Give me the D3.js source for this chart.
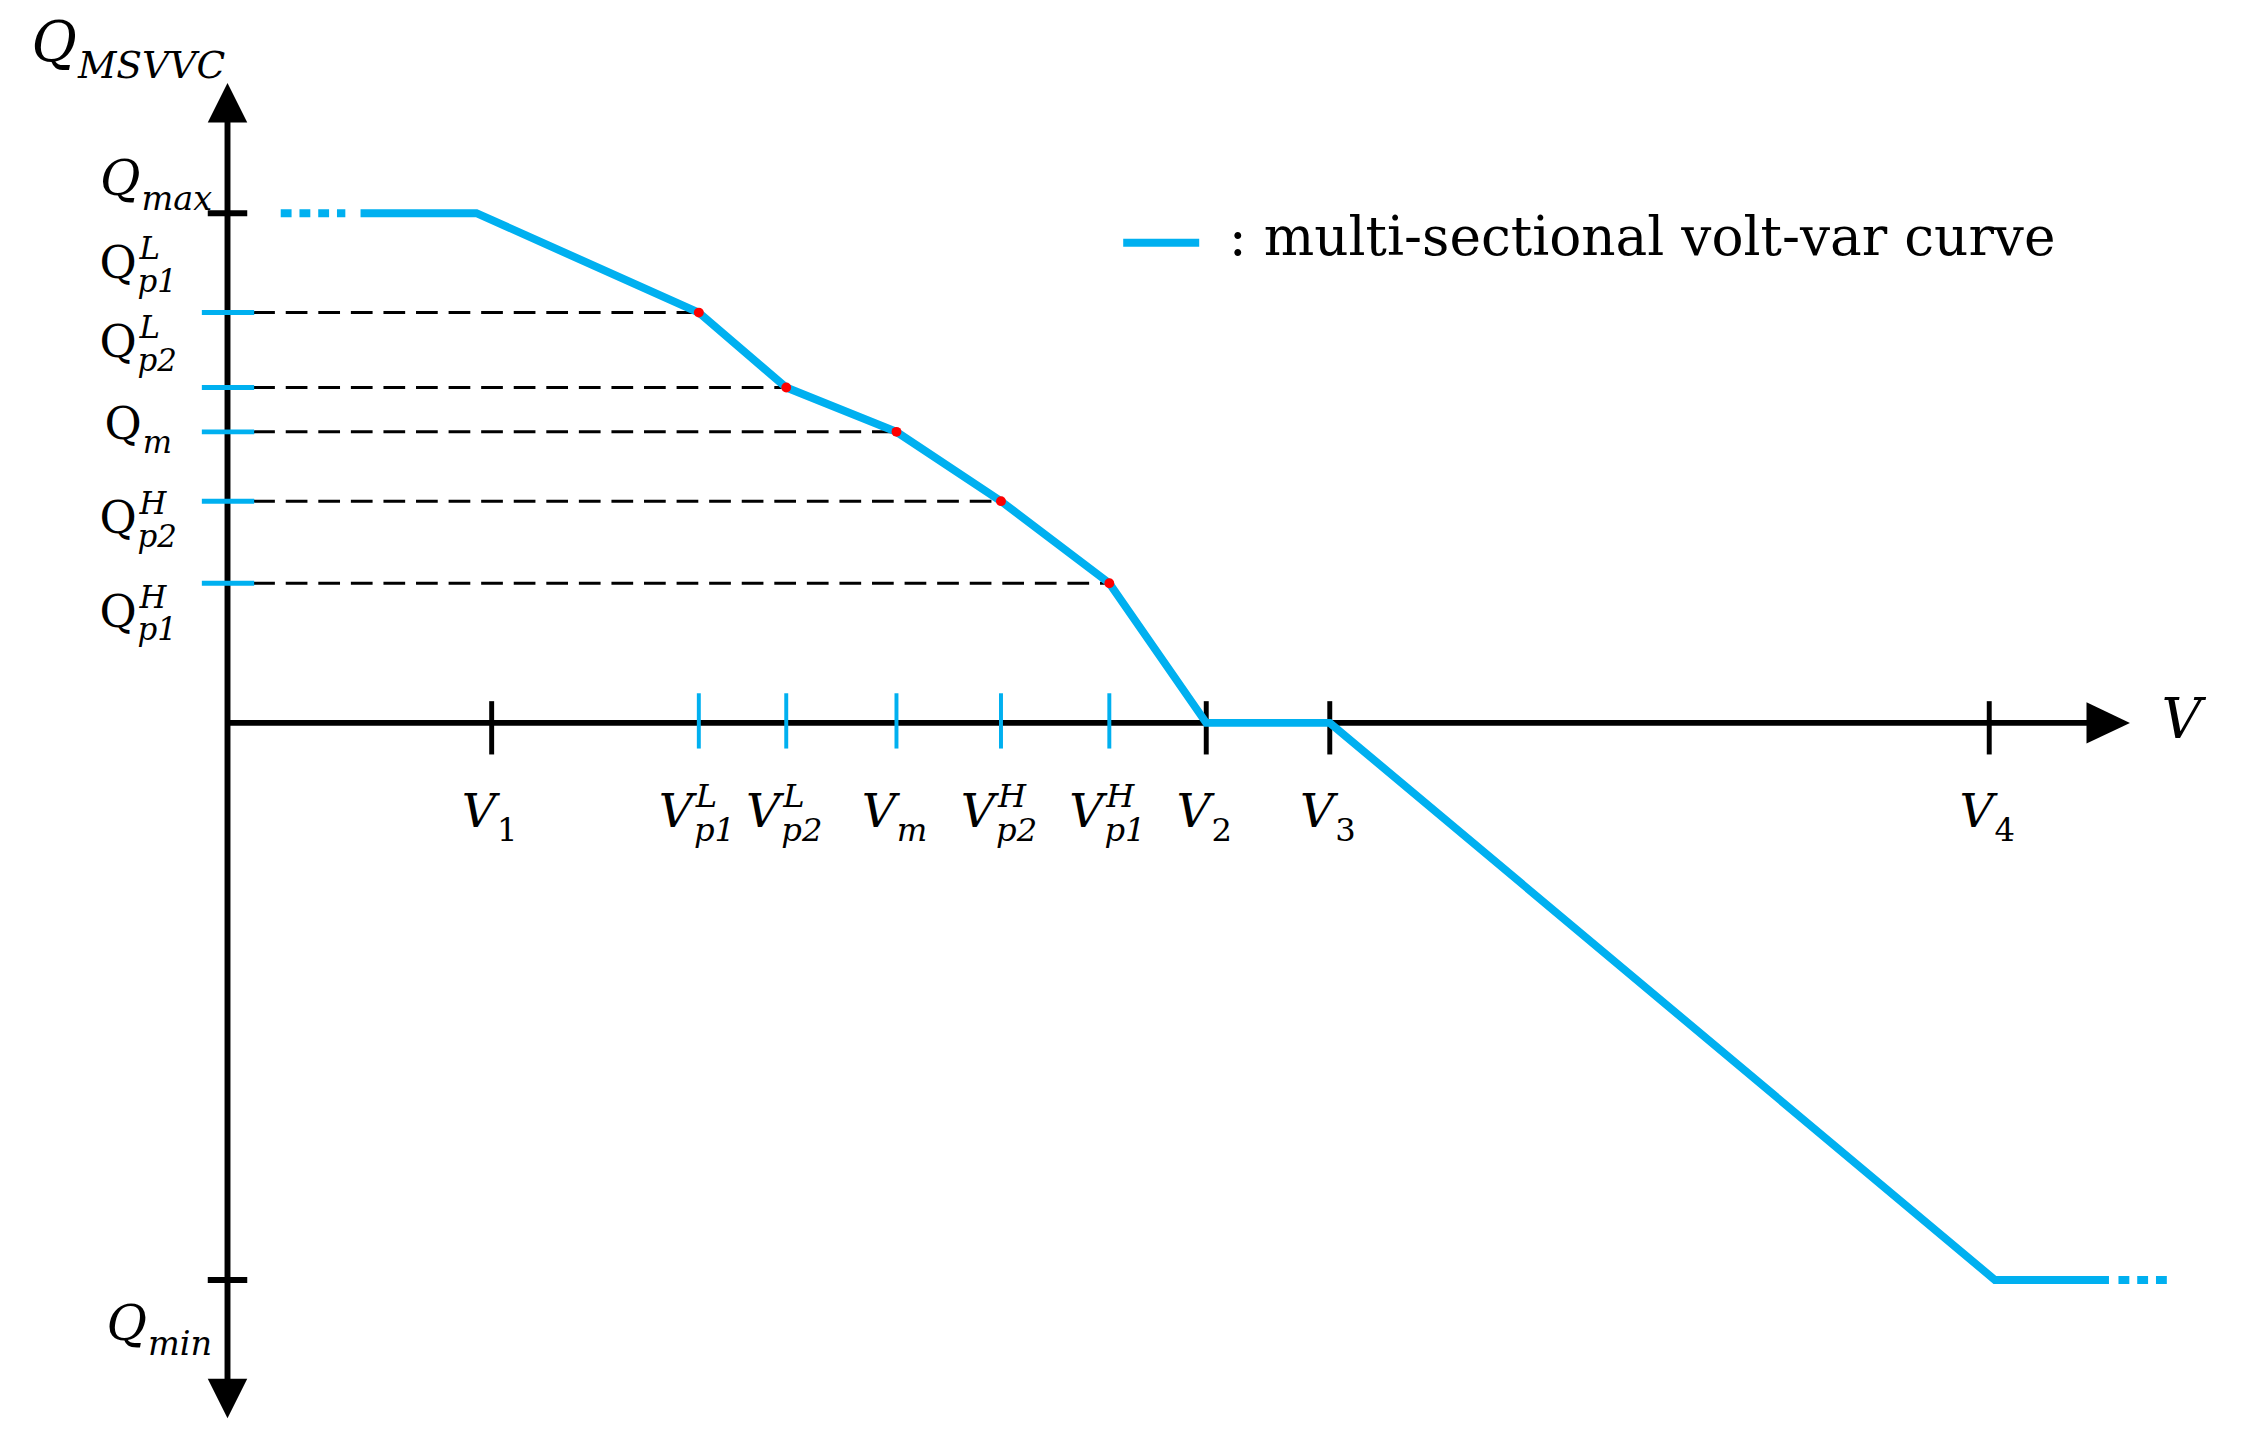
<!DOCTYPE html>
<html><head><meta charset="utf-8">
<script src="https://cdn.jsdelivr.net/npm/d3@7"></script>
<style>body{margin:0;background:#fff}</style>
</head><body>
<svg id="c" width="2263" height="1445"></svg>
<script>
// voltage levels (abstract units along the V axis, axis end = 10)
var vTicks = [
  {name:'V1', v:1.39, base:'V', sub:'1', sup:'', blue:false},
  {name:'VL1', v:2.48, base:'V', sub:'p1', sup:'L', blue:true},
  {name:'VL2', v:2.94, base:'V', sub:'p2', sup:'L', blue:true},
  {name:'Vm', v:3.52, base:'V', sub:'m', sup:'', blue:true},
  {name:'VH2', v:4.07, base:'V', sub:'p2', sup:'H', blue:true},
  {name:'VH1', v:4.64, base:'V', sub:'p1', sup:'H', blue:true},
  {name:'V2', v:5.15, base:'V', sub:'2', sup:'', blue:false},
  {name:'V3', v:5.80, base:'V', sub:'3', sup:'', blue:false},
  {name:'V4', v:9.27, base:'V', sub:'4', sup:'', blue:false}
];
// reactive power levels (Qmax = 1)
var qTicks = [
  {name:'QL1', q:0.805, sub:'p1', sup:'L'},
  {name:'QL2', q:0.658, sub:'p2', sup:'L'},
  {name:'Qm', q:0.571, sub:'m', sup:''},
  {name:'QH2', q:0.435, sub:'p2', sup:'H'},
  {name:'QH1', q:0.274, sub:'p1', sup:'H'}
];
var qMax = 1, qMin = -1.093;
// curve break points [V, Q]
var curve = [[0.70,1],[1.31,1],[2.48,0.805],[2.94,0.658],[3.52,0.571],[4.07,0.435],[4.64,0.274],[5.15,0],[5.80,0],[9.30,-1.093],[9.90,-1.093]];
var dotsLeft = [[0.28,1],[0.62,1]];
var dotsRight = [[9.95,-1.093],[10.23,-1.093]];
var bluePts = ['VL1','VL2','Vm','VH2','VH1'];

var root = d3.select('#c');
var svg = root.append('g').attr('transform','scale(0.987)');
var x = d3.scaleLinear().domain([0,10]).range([230.5,2156]);
var y = d3.scaleLinear().domain([0,1]).range([732.4,216]);
var blue = '#00b0f0', serif = 'DejaVu Serif, Liberation Serif, serif';
var line = d3.line().x(function(d){return x(d[0]);}).y(function(d){return y(d[1]);});

// axes
svg.append('line').attr('x1',x(0)).attr('x2',x(0)).attr('y1',105).attr('y2',1420).attr('stroke','#000').attr('stroke-width',6);
svg.append('line').attr('x1',x(0)).attr('x2',2130).attr('y1',y(0)).attr('y2',y(0)).attr('stroke','#000').attr('stroke-width',6);
svg.append('path').attr('d','M'+x(0)+',84 l-20,40 h40 z');
svg.append('path').attr('d','M'+x(0)+',1437 l-20,-40 h40 z');
svg.append('path').attr('d','M2158,'+y(0)+' l-44,-21 v42 z');

// dashed guides
qTicks.forEach(function(d,i){
  var v = vTicks.filter(function(t){return t.name==bluePts[i];})[0].v;
  svg.append('line').attr('x1',x(0)+26).attr('x2',x(v)).attr('y1',y(d.q)).attr('y2',y(d.q))
    .attr('stroke','#000').attr('stroke-width',3).attr('stroke-dasharray','22,11');
  svg.append('line').attr('x1',x(0)-26).attr('x2',x(0)+27).attr('y1',y(d.q)).attr('y2',y(d.q)).attr('stroke',blue).attr('stroke-width',5);
});
// Qmax/Qmin ticks
[qMax,qMin].forEach(function(q){
  svg.append('line').attr('x1',x(0)-20).attr('x2',x(0)+20).attr('y1',y(q)).attr('y2',y(q)).attr('stroke','#000').attr('stroke-width',6);
});
// V ticks
vTicks.forEach(function(d){
  svg.append('line').attr('x1',x(d.v)).attr('x2',x(d.v)).attr('y1',y(0)-(d.blue?30:22)).attr('y2',y(0)+(d.blue?26:32))
    .attr('stroke',d.blue?blue:'#000').attr('stroke-width',d.blue?4:5);
});

// curve
svg.append('path').attr('d',line(curve)).attr('fill','none').attr('stroke',blue).attr('stroke-width',8).attr('stroke-linejoin','miter');
[dotsLeft,dotsRight].forEach(function(p){
  svg.append('path').attr('d',line(p)).attr('fill','none').attr('stroke',blue).attr('stroke-width',8).attr('stroke-dasharray','11,8');
});
bluePts.forEach(function(n,i){
  var v = vTicks.filter(function(t){return t.name==n;})[0].v;
  svg.append('circle').attr('cx',x(v)).attr('cy',y(qTicks[i].q)).attr('r',5).attr('fill','#f00');
});

// labels with sub/superscripts
function label(px, py, base, sub, sup, italicBase, anchor, size){
  size = size || 50;
  var g = svg.append('g');
  var t = g.append('text').attr('x',0).attr('y',0).attr('font-family',serif).attr('font-size',size)
    .attr('font-style',italicBase?'italic':'normal').text(base);
  var w = t.node().getComputedTextLength();
  var s2 = size*0.68;
  var sb = g.append('text').attr('x',w+1).attr('y',size*0.3).attr('font-family',serif).attr('font-size',s2)
    .attr('font-style', /^[0-9]+$/.test(sub)?'normal':'italic').text(sub);
  var total = w + 1 + sb.node().getComputedTextLength();
  if (sup) {
    g.append('text').attr('x',w+3).attr('y',-size*0.42).attr('font-family',serif).attr('font-size',s2).attr('font-style','italic').text(sup);
  }
  var dx = anchor=='middle' ? -total/2 : anchor=='end' ? -total : 0;
  g.attr('transform','translate('+(px+dx)+','+py+')');
}
label(32, 62, 'Q', 'MSVVC', '', true, 'start', 56);
label(215, 198, 'Q', 'max', '', true, 'end');
label(215, 1358, 'Q', 'min', '', true, 'end');
var qLabelY = {QL1:282, QL2:362, Qm:445, QH2:540, QH1:635};
qTicks.forEach(function(d){ label(140, qLabelY[d.name], 'Q', d.sub, d.sup, false, 'middle', 46); });
vTicks.forEach(function(d){ label(x(d.v)-2, 838, d.base, d.sub, d.sup, true, 'middle', 48); });
svg.append('text').attr('x',2190).attr('y',748).attr('font-family',serif).attr('font-style','italic').attr('font-size',56).text('V');

// legend
svg.append('line').attr('x1',1138).attr('x2',1215).attr('y1',246).attr('y2',246).attr('stroke',blue).attr('stroke-width',8);
svg.append('text').attr('x',1245).attr('y',258).attr('font-family',serif).attr('font-size',54).text(': multi-sectional volt-var curve');
</script>
</body></html>
